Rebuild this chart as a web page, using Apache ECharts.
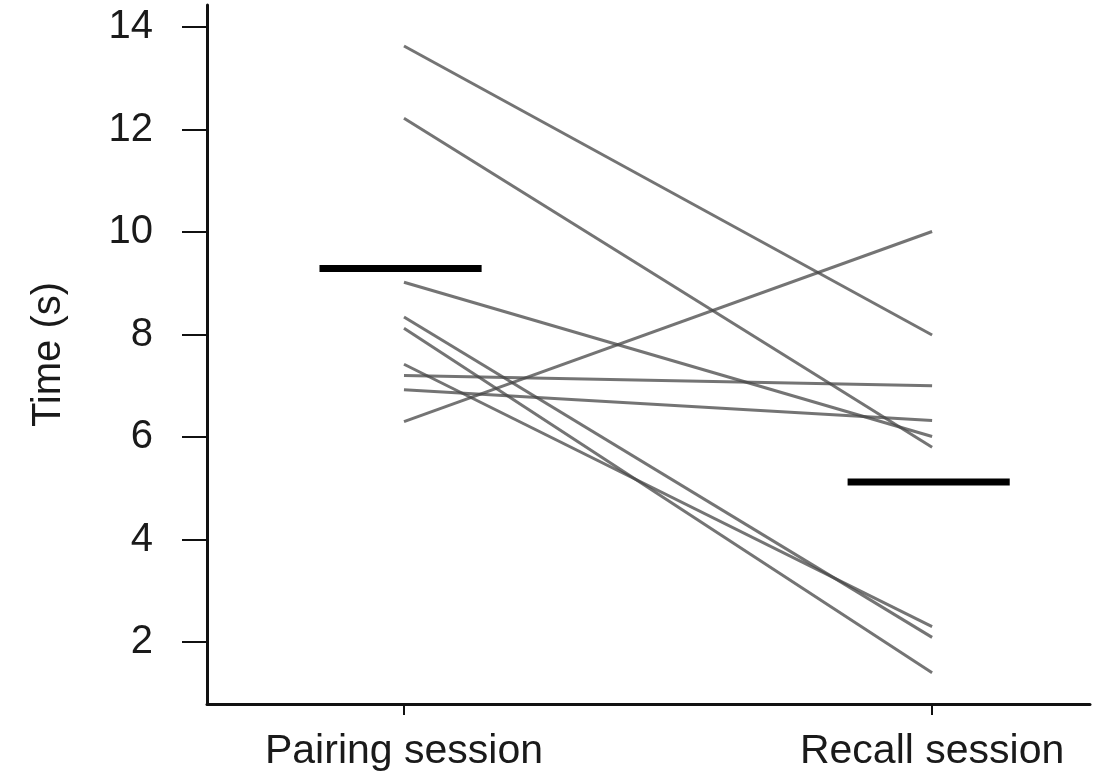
<!DOCTYPE html>
<html>
<head>
<meta charset="utf-8">
<title>Time (s) — Pairing vs Recall session</title>
<script src="https://cdn.jsdelivr.net/npm/echarts@6/dist/echarts.min.js"></script>
<style>
  html, body { margin: 0; padding: 0; background: #fff; }
  #chart { width: 1100px; height: 781px; }
</style>
</head>
<body>
<div id="chart"></div>
<script>
// Session names shown on the x axis (positions 0 and 1)
const sessions = ['Pairing session', 'Recall session'];

// Per-participant times (s), paired by index
const pairingTimes = [13.63, 12.22, 9.02, 8.34, 8.12, 7.42, 7.20, 6.92, 6.30];
const recallTimes  = [7.99, 5.80, 6.01, 2.09, 1.40, 2.30, 7.00, 6.32, 10.01];

// Group summary bars, one per session
const sessionMeans = [9.29, 5.12];

// Y axis tick values
const yTicks = [2, 4, 6, 8, 10, 12, 14];

// Horizontal extent of the summary bars around each session position
const BAR_LEFT = 0.16;
const BAR_RIGHT = 0.147;

const FONT = '"Liberation Sans", Arial, Helvetica, sans-serif';
const TEXT = '#1a1a1a';

const series = [];

// One segment per participant, pairing -> recall
pairingTimes.forEach((p, i) => {
  series.push({
    type: 'line',
    data: [[0, p], [1, recallTimes[i]]],
    symbol: 'none',
    silent: true,
    lineStyle: { color: 'rgba(70,70,70,0.75)', width: 3 },
    z: 2
  });
});

// Summary bars
sessionMeans.forEach((m, i) => {
  series.push({
    type: 'line',
    data: [[i - BAR_LEFT, m], [i + BAR_RIGHT, m]],
    symbol: 'none',
    silent: true,
    lineStyle: { color: '#000', width: 7, cap: 'butt' },
    z: 3
  });
});

const chart = echarts.init(document.getElementById('chart'), null, { renderer: 'canvas' });
chart.setOption({
  animation: false,
  backgroundColor: '#fff',
  grid: { left: 207, right: 10, top: 5, bottom: 77 },
  xAxis: {
    type: 'value',
    min: -0.373,
    max: 1.299,
    splitLine: { show: false },
    axisLine: { show: true, onZero: false, lineStyle: { color: '#111', width: 3 } },
    axisTick: {
      show: true, inside: false, length: 11,
      customValues: [0, 1],
      lineStyle: { color: '#111', width: 2 }
    },
    axisLabel: {
      customValues: [0, 1],
      formatter: v => sessions[Math.round(v)],
      fontFamily: FONT, fontSize: 41, color: TEXT, margin: 27
    }
  },
  yAxis: {
    type: 'value',
    min: 0.79,
    max: 14.43,
    name: 'Time (s)',
    nameLocation: 'middle',
    nameRotate: 90,
    nameGap: 138,
    nameTextStyle: { fontFamily: FONT, fontSize: 40, color: TEXT },
    splitLine: { show: false },
    axisLine: { show: true, onZero: false, lineStyle: { color: '#111', width: 3 } },
    axisTick: {
      show: true, inside: false, length: 25,
      customValues: yTicks,
      lineStyle: { color: '#111', width: 2 }
    },
    axisLabel: {
      customValues: yTicks,
      fontFamily: FONT, fontSize: 40, color: TEXT, margin: 54
    }
  },
  series: series
});
</script>
</body>
</html>
